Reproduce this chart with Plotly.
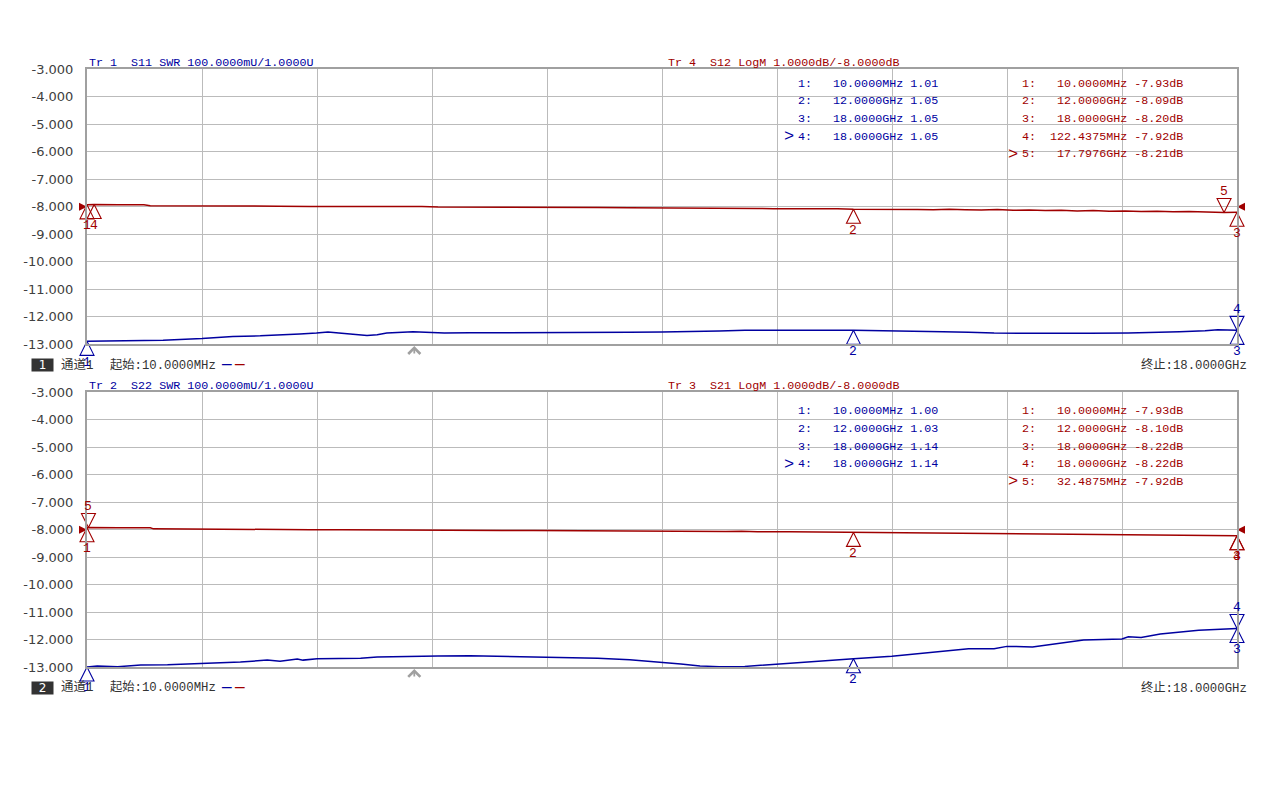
import plotly.graph_objects as go

# page is 1280x800 with the browser's default 8px body margin around the figure
PAGE_OFF = 8
W, H = 1280 - 2 * PAGE_OFF, 800 - 2 * PAGE_OFF
def px(x): return (x - PAGE_OFF) / W
def py(y): return 1 - (y - PAGE_OFF) / H

BLUE = "#0000a0"
RED = "#a00000"
GRID = "#bbbbbb"
FRAME = "#a0a0a0"
MONO = "Liberation Mono"
MIXED = "Liberation Mono, Noto Sans CJK SC"

# ---------------- sweep / scale settings ----------------
start_ghz = 0.01
stop_ghz = 18.0
n_div = 10
db_per_div = 1.0
db_ref = -8.0
swr_per_div = 0.1
swr_ref = 1.0
sweep_indicator_ghz = 5.13

# ---------------- channel 1 ----------------
# Tr 1: S11 SWR
f_s11 = [0.01, 0.4, 0.73, 1.2, 1.81, 2.29, 2.72, 3.0, 3.34, 3.6, 3.78, 3.95, 4.12, 4.39,
         4.55, 4.70, 5.11, 5.3, 5.6, 6.0, 6.5, 7.0, 7.5, 8.0, 8.5, 9.0, 9.6, 9.9, 10.3,
         10.8, 11.5, 12.0, 12.5, 13.0, 13.4, 13.8, 14.2, 14.7, 15.2, 15.7, 16.3, 16.7,
         17.1, 17.5, 17.7, 18.0]
swr_s11 = [1.010, 1.011, 1.012, 1.014, 1.020, 1.028, 1.030, 1.032, 1.037, 1.040, 1.044,
           1.040, 1.037, 1.031, 1.034, 1.040, 1.045, 1.044, 1.040, 1.041, 1.041, 1.042,
           1.042, 1.043, 1.043, 1.044, 1.045, 1.048, 1.050, 1.051, 1.050, 1.050, 1.049,
           1.047, 1.045, 1.043, 1.040, 1.039, 1.038, 1.039, 1.040, 1.042, 1.045, 1.049,
           1.052, 1.050]
# Tr 4: S12 LogM (dB)
f_s12 = [0.01, 0.1224375, 0.5, 0.9, 1.0, 1.5, 2.0, 2.5, 3.0, 3.5, 4.0, 4.5, 4.75, 5.0,
         5.25, 5.5, 6.0, 6.5, 7.0, 7.5, 8.0, 8.5, 9.0, 9.5, 9.75, 10.0, 10.25, 10.5,
         10.75, 11.0, 11.25, 11.5, 11.75, 12.0, 12.25, 12.5, 12.75, 13.0, 13.25, 13.5,
         13.75, 14.0, 14.25, 14.5, 14.75, 15.0, 15.25, 15.5, 15.75, 16.0, 16.25, 16.5,
         16.75, 17.0, 17.25, 17.5, 17.7976, 18.0]
db_s12 = [-7.93, -7.92, -7.93, -7.93, -7.96, -7.96, -7.97, -7.97, -7.98, -7.99, -7.99,
          -8.00, -7.98, -8.00, -7.99, -8.01, -8.01, -8.02, -8.02, -8.03, -8.03, -8.04,
          -8.04, -8.05, -8.05, -8.06, -8.05, -8.06, -8.07, -8.07, -8.06, -8.08, -8.07,
          -8.09, -8.09, -8.10, -8.08, -8.10, -8.11, -8.09, -8.11, -8.12, -8.10, -8.13,
          -8.12, -8.14, -8.13, -8.15, -8.14, -8.16, -8.15, -8.17, -8.16, -8.18, -8.17,
          -8.19, -8.21, -8.20]

# ---------------- channel 2 ----------------
# Tr 2: S22 SWR
f_s22 = [0.01, 0.17, 0.49, 0.85, 1.27, 1.81, 2.41, 2.83, 3.03, 3.30, 3.39, 3.61, 3.86,
         4.29, 4.55, 4.71, 5.11, 5.5, 6.0, 6.5, 7.0, 7.5, 8.0, 8.5, 9.0, 9.3, 9.6, 9.9,
         10.3, 10.8, 11.3, 12.0, 12.6, 13.0, 13.4, 13.8, 14.2, 14.4, 14.8, 15.2, 15.6,
         16.2, 16.3, 16.5, 16.8, 17.4, 18.0]
swr_s22 = [1.000, 1.004, 1.001, 1.007, 1.008, 1.012, 1.018, 1.025, 1.021, 1.029, 1.025,
           1.030, 1.030, 1.032, 1.036, 1.037, 1.037, 1.040, 1.041, 1.039, 1.037, 1.035,
           1.032, 1.026, 1.018, 1.011, 1.004, 1.001, 1.002, 1.011, 1.019, 1.030, 1.039,
           1.048, 1.057, 1.066, 1.066, 1.075, 1.073, 1.085, 1.098, 1.102, 1.110, 1.107,
           1.120, 1.134, 1.140]
# Tr 3: S21 LogM (dB)
f_s21 = [0.01, 0.0324875, 0.5, 1.0, 1.05, 1.5, 2.0, 2.5, 3.0, 3.5, 4.0, 4.5, 4.75, 5.0,
         5.25, 5.5, 6.0, 6.5, 7.0, 7.5, 8.0, 8.5, 9.0, 9.5, 10.0, 10.25, 10.5, 11.0,
         11.5, 12.0, 12.5, 13.0, 13.5, 14.0, 14.5, 14.75, 15.0, 15.25, 15.5, 15.75,
         16.0, 16.25, 16.5, 16.75, 17.0, 17.25, 17.5, 17.75, 18.0]
db_s21 = [-7.93, -7.92, -7.93, -7.93, -7.97, -7.98, -7.98, -7.99, -7.99, -8.00, -8.00,
          -8.01, -7.99, -8.01, -8.00, -8.02, -8.02, -8.03, -8.03, -8.04, -8.05, -8.05,
          -8.06, -8.06, -8.07, -8.06, -8.08, -8.08, -8.09, -8.10, -8.11, -8.12, -8.12,
          -8.13, -8.14, -8.13, -8.15, -8.14, -8.16, -8.15, -8.17, -8.16, -8.18, -8.17,
          -8.19, -8.18, -8.20, -8.19, -8.22]

# ---------------- markers ----------------
mk_s11_id = [1, 2, 3, 4]
mk_s11_f = [0.01, 12.0, 18.0, 18.0]
mk_s11_v = [1.01, 1.05, 1.05, 1.05]
mk_s11_active = 4

mk_s12_id = [1, 2, 3, 4, 5]
mk_s12_f = [0.01, 12.0, 18.0, 0.1224375, 17.7976]
mk_s12_v = [-7.93, -8.09, -8.20, -7.92, -8.21]
mk_s12_active = 5

mk_s22_id = [1, 2, 3, 4]
mk_s22_f = [0.01, 12.0, 18.0, 18.0]
mk_s22_v = [1.00, 1.03, 1.14, 1.14]
mk_s22_active = 4

mk_s21_id = [1, 2, 3, 4, 5]
mk_s21_f = [0.01, 12.0, 18.0, 18.0, 0.0324875]
mk_s21_v = [-7.93, -8.10, -8.22, -8.22, -7.92]
mk_s21_active = 5

y_ticks = [db_ref + db_per_div * k for k in range(5, -6, -1)]
y_ticklabels = [f"{v:.3f}" for v in y_ticks]


def nb(s):
    return s.replace(" ", "\u00a0")


def fmt_freq(f):
    if f < 1.0:
        return f"{f * 1000:.4f}MHz"
    return f"{f:.4f}GHz"


fig = go.Figure()

# geometry of the two panels (page pixels)
panels = [
    dict(top=63.5, bottom=343.5, x="x", yl="y", ys="y2", xname="xaxis", ylname="yaxis", ysname="yaxis2"),
    dict(top=392.7, bottom=672.7, x="x2", yl="y3", ys="y4", xname="xaxis2", ylname="yaxis3", ysname="yaxis4"),
]
X0, X1 = 87, 1237

layout = dict(
    width=W, height=H, autosize=False,
    margin=dict(l=0, r=0, t=0, b=0),
    paper_bgcolor="white", plot_bgcolor="white",
    showlegend=False, hovermode=False,
)
for p in panels:
    layout[p["xname"]] = dict(
        domain=[px(X0), px(X1)], range=[start_ghz, stop_ghz], anchor=p["yl"],
        tick0=start_ghz, dtick=(stop_ghz - start_ghz) / n_div,
        showticklabels=False, ticks="", showgrid=True, gridcolor=GRID, gridwidth=1,
        zeroline=False, showline=True, mirror=True, linecolor=FRAME, linewidth=2,
    )
    layout[p["ylname"]] = dict(
        domain=[py(p["bottom"]), py(p["top"])],
        range=[db_ref - 5 * db_per_div, db_ref + 5 * db_per_div], anchor=p["x"],
        tickmode="array", tickvals=y_ticks, ticktext=y_ticklabels,
        tickfont=dict(family="DejaVu Sans", size=13, color="#404040"),
        ticks="", ticklabelstandoff=9,
        showgrid=True, gridcolor=GRID, gridwidth=1,
        zeroline=False, showline=True, mirror=True, linecolor=FRAME, linewidth=2,
    )
    layout[p["ysname"]] = dict(
        range=[swr_ref, swr_ref + n_div * swr_per_div], overlaying=p["yl"],
        anchor=p["x"], visible=False,
    )
fig.update_layout(**layout)

traces = [
    (panels[0], f_s11, swr_s11, "swr", mk_s11_id, mk_s11_f, mk_s11_v, mk_s11_active),
    (panels[0], f_s12, db_s12, "db", mk_s12_id, mk_s12_f, mk_s12_v, mk_s12_active),
    (panels[1], f_s22, swr_s22, "swr", mk_s22_id, mk_s22_f, mk_s22_v, mk_s22_active),
    (panels[1], f_s21, db_s21, "db", mk_s21_id, mk_s21_f, mk_s21_v, mk_s21_active),
]

annotations = []
label_font_size = 13
for p, fx, fy, kind, mid, mf, mv, act in traces:
    color = BLUE if kind == "swr" else RED
    yref = p["ys"] if kind == "swr" else p["yl"]
    fig.add_trace(go.Scatter(x=fx, y=fy, xaxis=p["x"], yaxis=yref, mode="lines",
                             line=dict(color=color, width=1.5), hoverinfo="skip"))
    symbols = ["arrow-down-open" if i == act else "arrow-up-open" for i in mid]
    fig.add_trace(go.Scatter(x=mf, y=mv, xaxis=p["x"], yaxis=yref, mode="markers",
                             cliponaxis=False,
                             marker=dict(symbol=symbols, size=14, color=color,
                                         line=dict(width=1.1, color=color)),
                             hoverinfo="skip"))
    for i, f, v in zip(mid, mf, mv):
        annotations.append(dict(
            x=f, y=v, xref=p["x"], yref=yref, text=str(i), showarrow=False,
            yshift=21 if i == act else -21,
            font=dict(family=MONO, size=label_font_size, color=color)))

# reference-level indicators of the LogM traces
for p in panels:
    fig.add_trace(go.Scatter(x=[start_ghz], y=[db_ref], xaxis=p["x"], yaxis=p["yl"],
                             mode="markers", cliponaxis=False,
                             marker=dict(symbol="arrow-right", size=8, color=RED),
                             hoverinfo="skip"))
    fig.add_trace(go.Scatter(x=[stop_ghz], y=[db_ref], xaxis=p["x"], yaxis=p["yl"],
                             mode="markers", cliponaxis=False,
                             marker=dict(symbol="arrow-left", size=8, color=RED),
                             hoverinfo="skip"))
    annotations.append(dict(
        x=sweep_indicator_ghz, y=db_ref - 5 * db_per_div, xref=p["x"], yref=p["yl"],
        text="", showarrow=True, ax=0, ay=11, arrowhead=4, arrowsize=1.3,
        arrowwidth=1.8, arrowcolor="#a0a0a0", standoff=2))

# ---------------- text blocks ----------------
headers = [
    (panels[0], "Tr 1  S11 SWR", "Tr 4  S12 LogM", 57),
    (panels[1], "Tr 2  S22 SWR", "Tr 3  S21 LogM", 386),
]
for p, hb, hr, yc in headers:
    annotations.append(dict(
        x=px(87), y=py(yc), xref="paper", yref="paper", xanchor="left", yanchor="middle",
        text=nb(f"{hb} {swr_per_div * 1000:.4f}mU/{swr_ref:.4f}U"), showarrow=False,
        font=dict(family=MONO, size=11.7, color=BLUE)))
    annotations.append(dict(
        x=px(666), y=py(yc), xref="paper", yref="paper", xanchor="left", yanchor="middle",
        text=nb(f"{hr} {db_per_div:.4f}dB/{db_ref:.4f}dB"), showarrow=False,
        font=dict(family=MONO, size=11.7, color=RED)))

tables = [
    (78, 796, mk_s11_id, mk_s11_f, mk_s11_v, mk_s11_active, "swr"),
    (78, 1020, mk_s12_id, mk_s12_f, mk_s12_v, mk_s12_active, "db"),
    (412, 796, mk_s22_id, mk_s22_f, mk_s22_v, mk_s22_active, "swr"),
    (412, 1020, mk_s21_id, mk_s21_f, mk_s21_v, mk_s21_active, "db"),
]
for y0, x0, mid, mf, mv, act, kind in tables:
    color = BLUE if kind == "swr" else RED
    for r, (i, f, v) in enumerate(zip(mid, mf, mv)):
        val = f"{v:.2f}" if kind == "swr" else f"{v:.2f}dB"
        line = f"{i}:" + f"{fmt_freq(f):>13}" + " " + val
        yc = y0 + 18 * r
        annotations.append(dict(
            x=px(x0), y=py(yc), xref="paper", yref="paper", xanchor="left",
            yanchor="middle", text=nb(line), showarrow=False,
            font=dict(family=MONO, size=11.7, color=color)))
        if i == act:
            annotations.append(dict(
                x=px(x0 - 14), y=py(yc), xref="paper", yref="paper", xanchor="left",
                yanchor="middle", text="&gt;", showarrow=False,
                font=dict(family=MONO, size=17, color=color)))

# status rows
for ch, yc in [(1, 365), (2, 694)]:
    annotations.append(dict(
        x=px(31), y=py(yc), xref="paper", yref="paper", xanchor="left", yanchor="middle",
        text=str(ch), showarrow=False, bgcolor="#333333", width=21, height=12,
        borderpad=0, font=dict(family="DejaVu Sans", size=12, color="white")))
    annotations.append(dict(
        x=px(59), y=py(yc), xref="paper", yref="paper", xanchor="left", yanchor="middle",
        text="通道1", showarrow=False, font=dict(family=MIXED, size=12.5, color="#333333")))
    annotations.append(dict(
        x=px(108), y=py(yc), xref="paper", yref="paper", xanchor="left", yanchor="middle",
        text=f"起始:{fmt_freq(start_ghz)}", showarrow=False,
        font=dict(family=MIXED, size=12.3, color="#333333")))
    for dx, c in [(219, BLUE), (232, RED)]:
        annotations.append(dict(
            x=px(dx), y=py(yc), xref="paper", yref="paper", xanchor="left", yanchor="middle",
            text="\u2014", showarrow=False, font=dict(family=MONO, size=16, color=c)))
    annotations.append(dict(
        x=px(1249), y=py(yc), xref="paper", yref="paper", xanchor="right", yanchor="middle",
        text=f"终止:{fmt_freq(stop_ghz)}", showarrow=False,
        font=dict(family=MIXED, size=12.3, color="#333333")))

fig.update_layout(annotations=annotations)

fig.write_html("out.html", config={"displayModeBar": False})
